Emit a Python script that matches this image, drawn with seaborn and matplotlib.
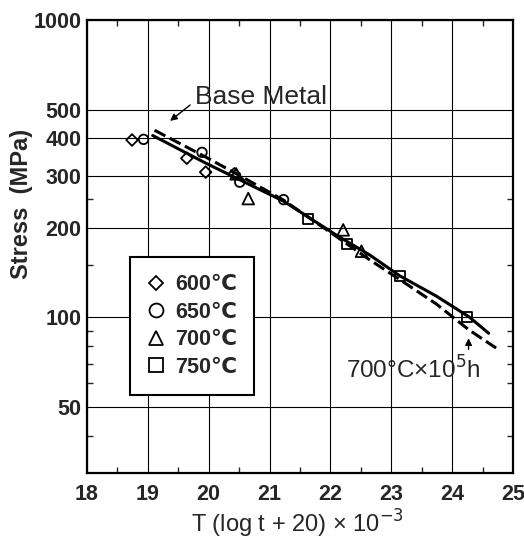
import numpy as np
import pandas as pd
import matplotlib
matplotlib.use("Agg")
import matplotlib.pyplot as plt
from matplotlib.lines import Line2D
import seaborn as sns

# creep rupture data, Larson-Miller parameter vs stress
x_600 = [18.74, 19.64, 19.95, 20.42]
y_600 = [395, 343, 308, 304]
x_650 = [18.93, 19.89, 20.51, 21.23]
y_650 = [397, 359, 285, 249]
x_700 = [20.45, 20.65, 22.21, 22.51]
y_700 = [304, 251, 197, 167]
x_750 = [21.63, 22.28, 23.14, 24.25]
y_750 = [214, 177, 138, 100]

# weld joint curve (solid) and base metal curve (dashed)
solid_x = [19.08, 19.93, 20.47, 21.23, 22.10, 22.65, 23.14, 23.74, 24.28, 24.60]
solid_y = [409, 332, 293, 246, 189, 162, 138, 118, 100.4, 88.5]
base_x = [19.11, 19.93, 20.47, 21.23, 22.10, 22.65, 23.19, 23.74, 24.28, 24.74]
base_y = [426, 348, 303, 248, 187, 156, 132, 111, 90.7, 78.5]

labels = ["600℃", "650℃", "700℃", "750℃"]
markers = ["D", "o", "^", "s"]

x_ticks = [18, 19, 20, 21, 22, 23, 24, 25]
y_ticks = [50, 100, 200, 300, 400, 500, 1000]
y_minor = [40, 60, 70, 80, 90, 150, 250]

sns.set_style("white")
plt.rcParams["font.family"] = ["Liberation Sans", "DejaVu Sans"]

fig = plt.figure(figsize=(5.24, 5.41), dpi=100)
ax = fig.add_axes([0.166, 0.1257, 0.813, 0.8373])

# curves
sns.lineplot(x=solid_x, y=solid_y, ax=ax, color="black", linewidth=2.2, sort=False)
sns.lineplot(x=base_x, y=base_y, ax=ax, color="black", linewidth=2.2, sort=False,
             linestyle=(0, (4, 1.6)))

# open markers
series = [(x_600, y_600, 35), (x_650, y_650, 47), (x_700, y_700, 70), (x_750, y_750, 52)]
for (xs, ys, size), m in zip(series, markers):
    sns.scatterplot(x=xs, y=ys, marker=m, s=size, ax=ax, color="black", zorder=3)
for coll in ax.collections:
    coll.set_facecolor("none")
    coll.set_edgecolor("black")
    coll.set_linewidth(1.3)

ax.set_yscale("log")
ax.set_xlim(18, 25)
ax.set_ylim(30, 1000)
ax.set_xticks(x_ticks)
ax.set_xticklabels([str(t) for t in x_ticks])
ax.set_xticks(np.arange(18.5, 25, 1.0), minor=True)
ax.set_yticks(y_ticks)
ax.set_yticklabels([str(t) for t in y_ticks])
ax.set_yticks(y_minor, minor=True)
ax.yaxis.set_minor_formatter(matplotlib.ticker.NullFormatter())

ax.grid(True, which="major", color="black", linewidth=0.8)
ax.tick_params(which="major", length=0, pad=4)
ax.tick_params(axis="x", which="major", pad=8)
ax.tick_params(which="minor", direction="in", length=4, width=1,
               top=True, right=True, bottom=True, left=True)
for lab in ax.get_xticklabels() + ax.get_yticklabels():
    lab.set_fontweight("bold")
    lab.set_fontsize(15.5)
for sp in ax.spines.values():
    sp.set_linewidth(1.6)
    sp.set_color("black")

ax.set_ylabel("Stress  (MPa)", fontsize=17, fontweight="bold", va="center")
ax.yaxis.set_label_coords(-0.153, 0.594)
ax.set_xlabel("T (log t + 20) × 10$^{-3}$", fontsize=17, va="center")
ax.xaxis.set_label_coords(0.493, -0.113)

# annotations
ax.annotate("", xy=(19.33, 452), xytext=(19.73, 525),
            arrowprops=dict(arrowstyle="-|>", color="black", lw=1, mutation_scale=10))
ax.text(19.77, 552, "Base Metal", fontsize=19, va="center", ha="left")
ax.annotate("", xy=(24.27, 87), xytext=(24.27, 76.5),
            arrowprops=dict(arrowstyle="-|>", color="black", lw=1, mutation_scale=10))
ax.text(22.26, 66.5, "700°C×10$^5$h", fontsize=17.5, va="center", ha="left")

# legend
handles = [Line2D([], [], marker=m, linestyle="none", markerfacecolor="none",
                  markeredgecolor="black", markeredgewidth=1.3, markersize=ms)
           for m, ms in zip(markers, [7.6, 10, 10, 9.4])]
leg = ax.legend(handles, labels, loc="upper left", bbox_to_anchor=(0.101, 0.477),
                borderaxespad=0, frameon=True, fancybox=False, framealpha=1,
                handlelength=0.8, handletextpad=0.5, labelspacing=0.3,
                borderpad=0.8, prop={"size": 15.5, "weight": "bold"})
leg.get_frame().set_edgecolor("black")
leg.get_frame().set_linewidth(1.5)

fig.savefig("out.png", dpi=100)
